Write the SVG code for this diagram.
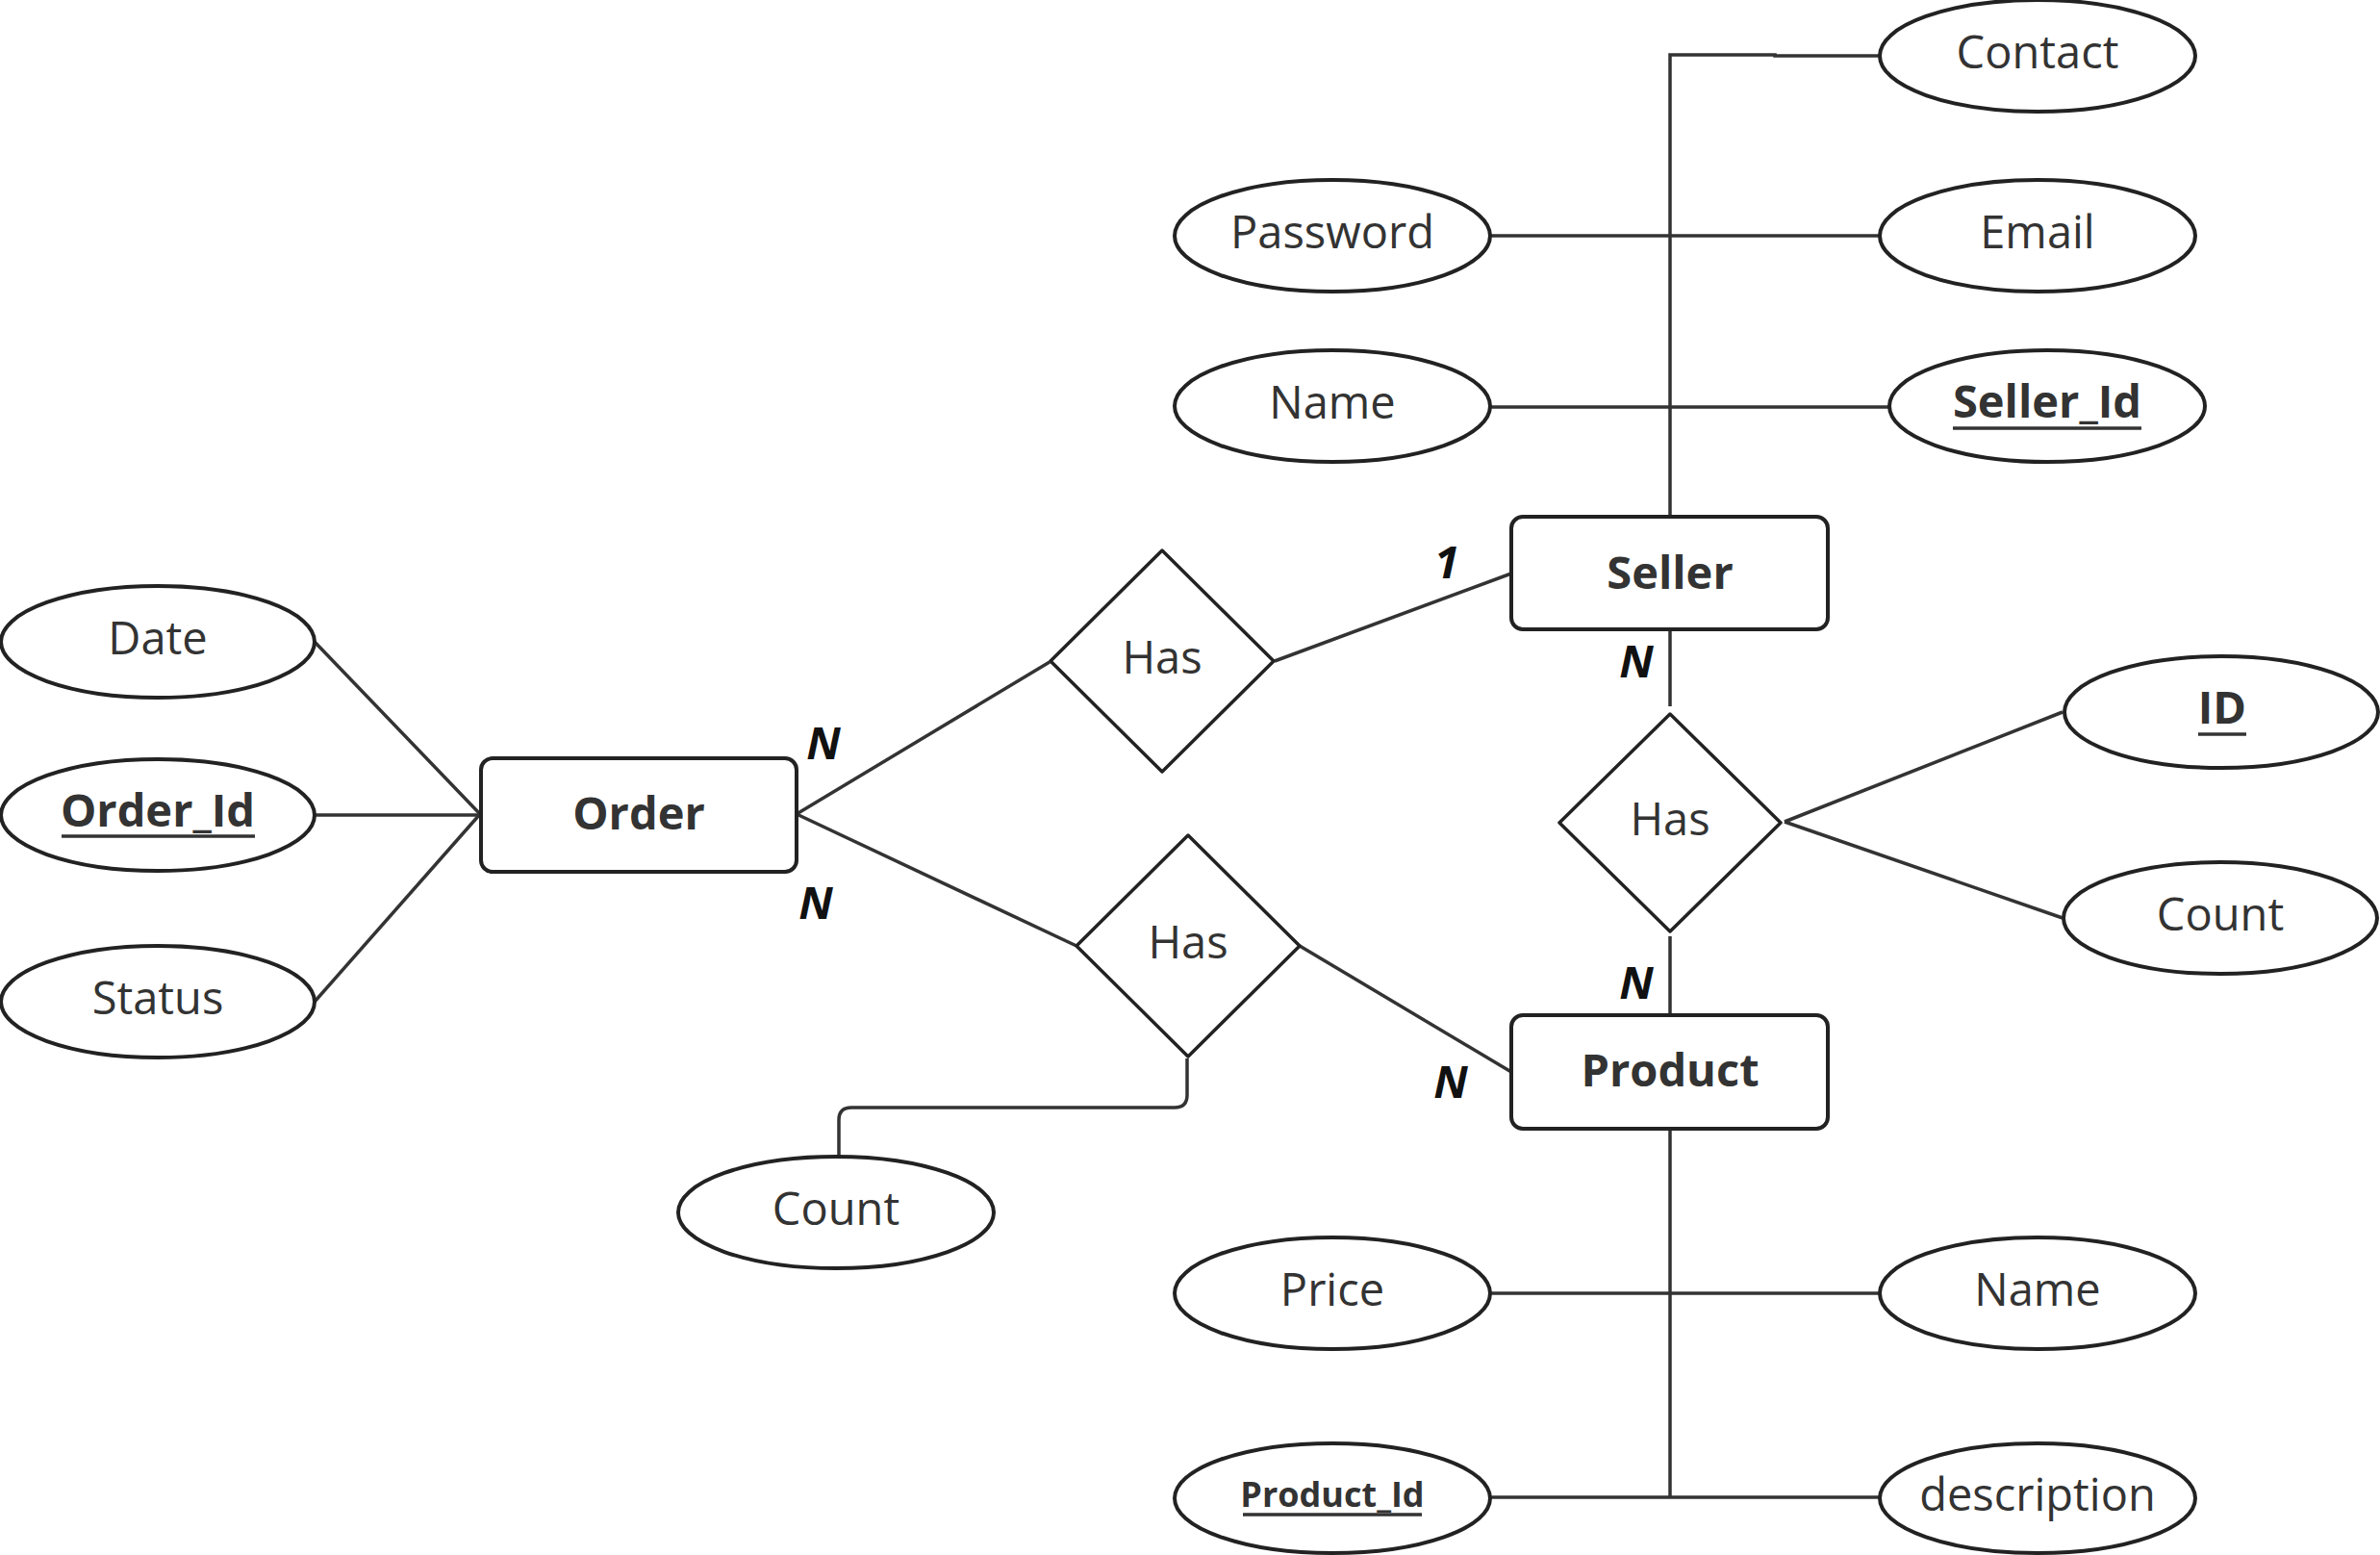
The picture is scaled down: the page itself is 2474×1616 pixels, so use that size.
<svg xmlns="http://www.w3.org/2000/svg" width="2474" height="1616" viewBox="0 0 2474 1616">
<style>
.bg{fill:#fff}
.e{fill:#fff;stroke:#222;stroke-width:4}
.r{fill:#fff;stroke:#222;stroke-width:4}
.d{fill:#fff;stroke:#222;stroke-width:3.5;stroke-linejoin:round}
.c{fill:none;stroke:#333;stroke-width:3.5}
.ul{stroke:#333;stroke-width:3.5}
text{font-family:"Open Sans","Noto Sans","DejaVu Sans",sans-serif;fill:#333;text-anchor:middle}
.t{font-size:47px}
.b{font-size:47px;font-weight:bold}
.n{font-size:47px;font-weight:bold;font-style:italic;fill:#111}
</style>
<rect class="bg" x="0" y="0" width="2474" height="1616"/>
<g id="connectors">
<path class="c" d="M327 667 L499 846"/>
<path class="c" d="M327 847 L499 847"/>
<path class="c" d="M327 1041 L499 846"/>
<path class="c" d="M828 846 L1091 688"/>
<path class="c" d="M828 846 L1119 983"/>
<path class="c" d="M1325 687 L1571 596"/>
<path class="c" d="M1351 983 L1571 1114"/>
<path class="c" d="M1234 1100 V1138 Q1234 1151 1221 1151 H885 Q872 1151 872 1164 V1202"/>
<path class="c" d="M1736 536 V57 H1845 V58 H1953"/>
<path class="c" d="M1549 245 H1953"/>
<path class="c" d="M1549 423 H1963"/>
<path class="c" d="M1736 654 V734"/>
<path class="c" d="M1855 854 L2144 740"/>
<path class="c" d="M1855 854 L2144 954"/>
<path class="c" d="M1736 973 V1054"/>
<path class="c" d="M1736 1173 V1556"/>
<path class="c" d="M1549 1344 H1953"/>
<path class="c" d="M1549 1556 H1953"/>
</g>
<g id="date"><ellipse class="e" cx="164" cy="667" rx="163" ry="58"/><text class="t" x="164" y="680">Date</text></g>
<g id="order_id"><ellipse class="e" cx="164" cy="847" rx="163" ry="58"/><text class="b" x="164" y="859">Order_Id</text><line class="ul" x1="64" y1="869" x2="265" y2="869"/></g>
<g id="status"><ellipse class="e" cx="164" cy="1041" rx="163" ry="58"/><text class="t" x="164" y="1054">Status</text></g>
<g id="order"><rect class="r" x="500" y="788" width="328" height="118" rx="12"/><text class="b" x="664" y="862">Order</text></g>
<g id="has_seller_order"><path class="d" d="M1208 572 L1324 687 L1208 802 L1092 687 Z"/><text class="t" x="1208" y="700">Has</text></g>
<g id="has_order_product"><path class="d" d="M1235 868 L1351 983 L1235 1098 L1119 983 Z"/><text class="t" x="1235" y="996">Has</text></g>
<g id="count_order"><ellipse class="e" cx="869" cy="1260" rx="164" ry="58"/><text class="t" x="869" y="1273">Count</text></g>
<g id="seller"><rect class="r" x="1571" y="537" width="329" height="117" rx="12"/><text class="b" x="1736" y="612">Seller</text></g>
<g id="contact"><ellipse class="e" cx="2118" cy="58" rx="164" ry="58"/><text class="t" x="2118" y="71">Contact</text></g>
<g id="password"><ellipse class="e" cx="1385" cy="245" rx="164" ry="58"/><text class="t" x="1385" y="258">Password</text></g>
<g id="email"><ellipse class="e" cx="2118" cy="245" rx="164" ry="58"/><text class="t" x="2118" y="258">Email</text></g>
<g id="seller_name"><ellipse class="e" cx="1385" cy="422" rx="164" ry="58"/><text class="t" x="1385" y="435">Name</text></g>
<g id="seller_id"><ellipse class="e" cx="2128" cy="422" rx="164" ry="58"/><text class="b" x="2128" y="434">Seller_Id</text><line class="ul" x1="2030" y1="445" x2="2226" y2="445"/></g>
<g id="has_seller_product"><path class="d" d="M1736 742 L1851 855 L1736 968 L1621 855 Z"/><text class="t" x="1736" y="868">Has</text></g>
<g id="id"><ellipse class="e" cx="2309" cy="740" rx="163" ry="58"/><text class="b" x="2310" y="752">ID</text><line class="ul" x1="2285" y1="763" x2="2335" y2="763"/></g>
<g id="count_seller"><ellipse class="e" cx="2308" cy="954" rx="163" ry="58"/><text class="t" x="2308" y="967">Count</text></g>
<g id="product"><rect class="r" x="1571" y="1055" width="329" height="118" rx="12"/><text class="b" x="1736" y="1129">Product</text></g>
<g id="price"><ellipse class="e" cx="1385" cy="1344" rx="164" ry="58"/><text class="t" x="1385" y="1357">Price</text></g>
<g id="product_name"><ellipse class="e" cx="2118" cy="1344" rx="164" ry="58"/><text class="t" x="2118" y="1357">Name</text></g>
<g id="product_id"><ellipse class="e" cx="1385" cy="1557" rx="164" ry="57"/><text class="b" style="font-size:36px" x="1385" y="1566">Product_Id</text><line class="ul" x1="1292" y1="1574" x2="1478" y2="1574"/></g>
<g id="description"><ellipse class="e" cx="2118" cy="1557" rx="164" ry="57"/><text class="t" x="2118" y="1570">description</text></g>
<g id="cardinalities">
<text class="n" x="856" y="789">N</text>
<text class="n" x="848" y="955">N</text>
<text class="n" x="1504" y="601">1</text>
<text class="n" x="1701" y="704">N</text>
<text class="n" x="1701" y="1038">N</text>
<text class="n" x="1508" y="1141">N</text>
</g>
</svg>
